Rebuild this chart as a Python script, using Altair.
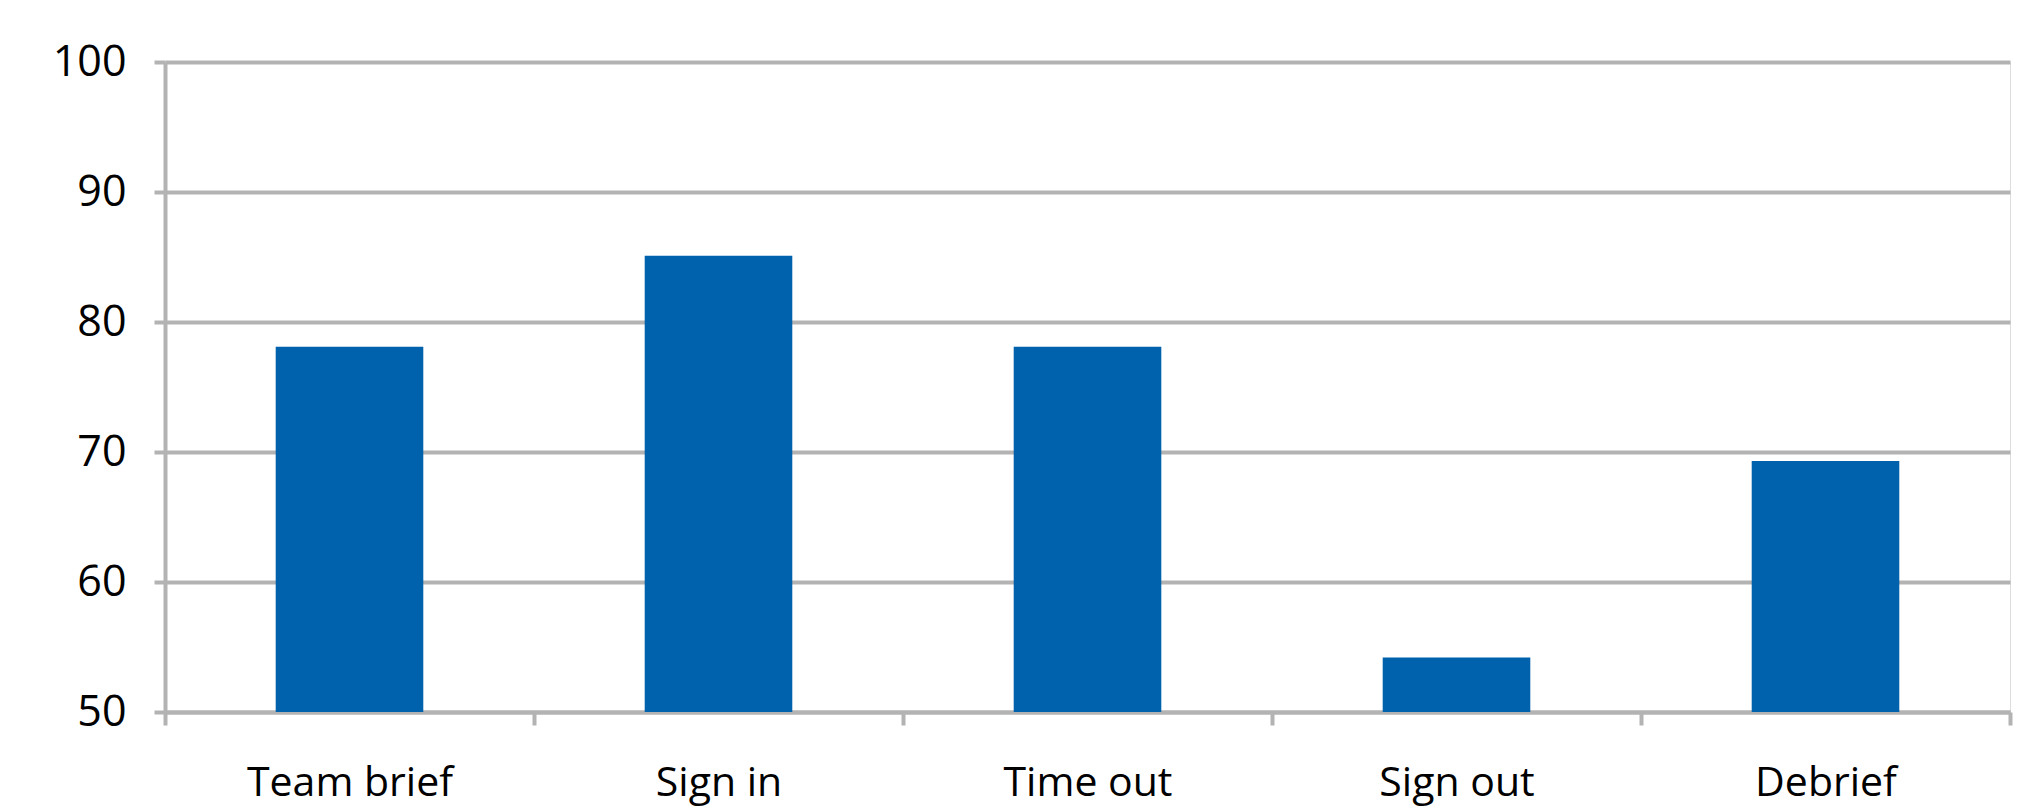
import altair as alt
import pandas as pd

# Checklist steps and their compliance percentages
steps = ["Team brief", "Sign in", "Time out", "Sign out", "Debrief"]
compliance = [78.1, 85.1, 78.1, 54.2, 69.3]
axis_floor = 50

df = pd.DataFrame({"step": steps, "pct": compliance, "base": [axis_floor] * len(steps)})

grey = "#b3b3b3"
font = "Open Sans"

bars = alt.Chart(df).mark_bar(color="#0062ad", width=alt.RelativeBandSize(0.4)).encode(
    x=alt.X(
        "step:N",
        sort=steps,
        scale=alt.Scale(paddingInner=0, paddingOuter=0),
        axis=alt.Axis(
            title=None,
            labelAngle=0,
            labelLimit=0,
            tickBand="extent",
            ticks=True,
            tickSize=13,
            tickWidth=4,
            tickColor=grey,
            domainColor=grey,
            domainWidth=4,
            labelFont=font,
            labelFontSize=41,
            labelColor="#000000",
            labelPadding=38,
            grid=False,
        ),
    ),
    y=alt.Y(
        "pct:Q",
        scale=alt.Scale(domain=[axis_floor, 100], zero=False, nice=False),
        axis=alt.Axis(
            title=None,
            values=[50, 60, 70, 80, 90, 100],
            tickSize=11,
            tickWidth=4,
            tickColor=grey,
            domainColor=grey,
            domainWidth=4,
            gridColor=grey,
            gridWidth=4,
            labelFont=font,
            labelFontSize=43,
            labelColor="#000000",
            labelPadding=28,
        ),
    ),
    y2="base:Q",
)

chart = bars.properties(
    width=1845,
    height=650,
    autosize=alt.AutoSizeParams(type="none"),
    padding={"left": 165, "top": 62, "right": 12, "bottom": 97},
).configure_view(stroke=None).configure(background="#ffffff")

chart.save("out.html", embed_options={"renderer": "svg", "actions": False})
